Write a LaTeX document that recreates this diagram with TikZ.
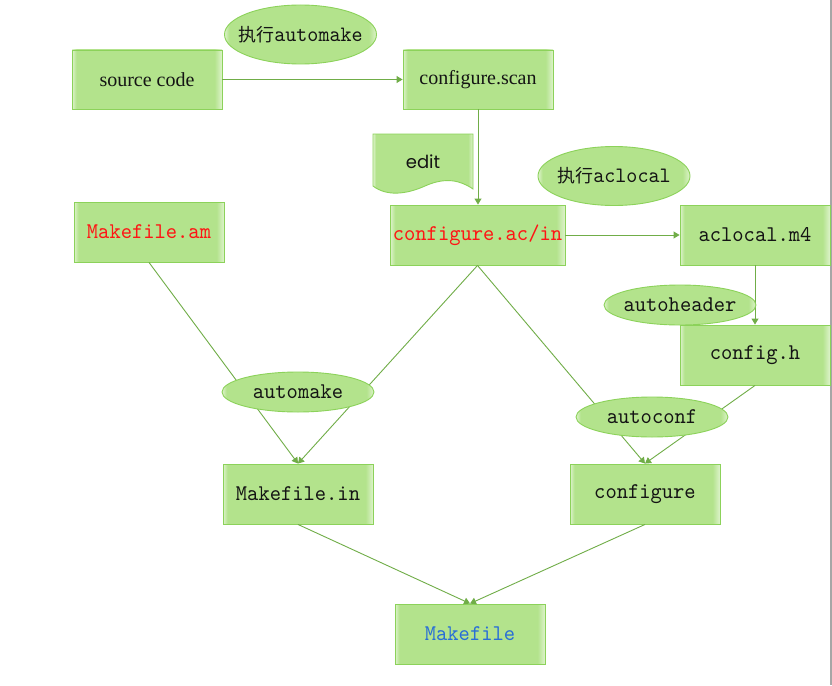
\documentclass[tikz,border=0pt]{standalone}
\usepackage{fontspec}
\setmainfont{Liberation Serif}
\newfontfamily\monof{lmmono10-regular.otf}[FakeStretch=0.955]
\newfontfamily\cjkf{Noto Sans CJK SC}
\newfontfamily\gothf{Poppins}
\usetikzlibrary{shapes.geometric,arrows.meta}
\definecolor{gm}{RGB}{179,227,140}
\definecolor{gl}{RGB}{222,243,204}
\definecolor{gb}{RGB}{140,210,90}
\definecolor{ln}{RGB}{112,173,71}
\definecolor{tred}{RGB}{255,20,20}
\definecolor{tblue}{RGB}{40,110,215}
\definecolor{tblk}{RGB}{20,20,20}
\newcommand{\zw}[1]{\makebox[0pt]{#1}}
\pgfdeclarehorizontalshading{boxsh}{100bp}{color(0bp)=(gl); color(25bp)=(gl); color(26.5bp)=(gm); color(72.5bp)=(gm); color(75bp)=(gl); color(100bp)=(gl)}
\tikzset{
  box/.style={rectangle, draw=gb, line width=0.9pt, shading=boxsh, minimum width=150pt, minimum height=60pt, inner sep=0pt, text=tblk},
  oval/.style={ellipse, draw=gb, line width=0.9pt, shading=boxsh, minimum width=152pt, minimum height=40pt, inner sep=0pt, text=tblk},
  conn/.style={draw=ln, line width=0.9pt},
  arr/.style={conn, -{Triangle[width=7pt,length=6pt]}},
  serift/.style={font=\fontsize{20}{24}\selectfont},
  monot/.style={font=\monof\fontsize{22.5}{26}\selectfont},
}
\begin{document}
\begin{tikzpicture}[x=1pt,y=-1pt]
\useasboundingbox (0,0) rectangle (832,685);
\fill[white] (0,0) rectangle (832,685);
\draw[gray!70, line width=1.5pt] (831,0) -- (831,685);
% boxes
\node[box, serift, minimum height=59pt] (src) at (147,79.5) {source code};
\node[box, serift, minimum height=59pt] (scan) at (478,79.5) {configure.scan};
\node[box, monot, text=tred] (am) at (149,232) {Makefile.am};
\node[box, monot, text=tred, minimum width=175pt] (ac) at (477.5,235) {configure.ac/in};
\node[box, monot] (m4) at (755,235) {aclocal.m4};
\node[box, monot] (ch) at (755,355) {config.h};
\node[box, monot] (min) at (298,494) {Makefile.in};
\node[box, monot] (cfg) at (645,494) {configure};
\node[box, monot, text=tblue] (mk) at (470,634) {Makefile};
% edit document shape
\path[draw=gb, line width=0.9pt, shading=boxsh] (373,134) -- (473,134) -- (473,189)
  .. controls (460,180) and (445,177) .. (425,186)
  .. controls (405,195) and (386,196) .. (373,186) -- cycle;
\node[font=\gothf\fontsize{18}{21}\selectfont, text=tblk] (edit) at (423,162) {edit};
% connectors
\draw[arr] (src.east) -- (scan.west);
\draw[arr] (scan.south) -- (scan.south |- ac.north);
\draw[arr] (ac.east) -- (m4.west);
\draw[arr] (m4.south) -- (ch.north);
\draw[arr] (am.south) -- (min.north);
\draw[arr] (ac.south) -- (min.north);
\draw[arr] (ac.south) -- (cfg.north);
\draw[arr] (ch.south) -- (cfg.north);
\draw[arr] (min.south) -- (mk.north);
\draw[arr] (cfg.south) -- (mk.north);
% ellipses
\node[oval, minimum height=59pt] (eam) at (300.5,34.5) {\zw{\cjkf\fontsize{18}{20}\selectfont 执行\monof\fontsize{22}{26}\selectfont automake}};
\node[oval, minimum height=59pt] (eal) at (614,176) {\zw{\cjkf\fontsize{18}{20}\selectfont 执行\monof\fontsize{22}{26}\selectfont aclocal}};
\node[oval, monot] (ahd) at (680,305) {\zw{autoheader}};
\node[oval, monot] (amk) at (298,392) {\zw{automake}};
\node[oval, monot] (acf) at (652,417) {\zw{autoconf}};
\end{tikzpicture}
\end{document}
